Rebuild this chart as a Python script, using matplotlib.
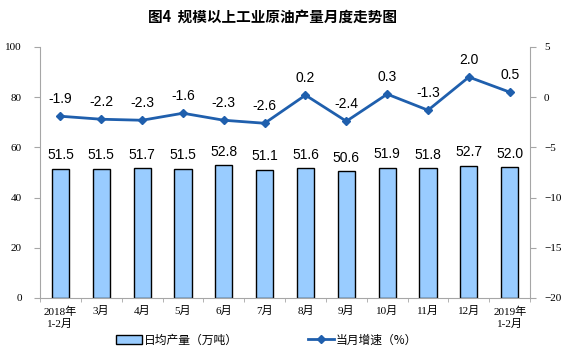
import matplotlib.pyplot as plt
import numpy as np
from matplotlib.lines import Line2D
from matplotlib.patches import Patch

plt.rcParams['font.family'] = ['Liberation Sans', 'Noto Sans CJK SC']

months = ["2018年\n1-2月", "3月", "4月", "5月", "6月", "7月", "8月",
          "9月", "10月", "11月", "12月", "2019年\n1-2月"]
output = [51.5, 51.5, 51.7, 51.5, 52.8, 51.1, 51.6, 50.6, 51.9, 51.8, 52.7, 52.0]
growth = [-1.9, -2.2, -2.3, -1.6, -2.3, -2.6, 0.2, -2.4, 0.3, -1.3, 2.0, 0.5]

bar_color = "#99CCFF"
line_color = "#1F5FAD"
axis_color = "#A6A6A6"
tick_font = ['Liberation Serif', 'Noto Sans CJK SC']

fig = plt.figure(figsize=(5.67, 3.58), dpi=100)
ax = fig.add_axes([0.0705, 0.1676, 0.8645, 0.7013])
ax2 = ax.twinx()

x = np.arange(len(months))

ax.bar(x, output, width=0.42, color=bar_color, edgecolor="black", linewidth=1.0, zorder=2)
for xi, v in zip(x, output):
    ax.text(xi, v + 2.5, f"{v:.1f}", ha="center", va="bottom", fontsize=10)

ax2.plot(x, growth, color=line_color, linewidth=2, marker="D", markersize=4.5, zorder=3)
for xi, v in zip(x, growth):
    ax2.text(xi, v + 1.0, f"{v:.1f}", ha="center", va="bottom", fontsize=10)

ax.set_xlim(-0.5, len(months) - 0.5)
ax.set_ylim(0, 100)
ax.set_yticks(range(0, 101, 20))
ax2.set_ylim(-20, 5)
ax2.set_yticks(range(-20, 6, 5))

ax.set_xticks(x)
ax.set_xticklabels(months, family=tick_font, fontsize=8, linespacing=1.3)
ax.set_xticks(np.arange(-0.5, len(months), 1), minor=True)
ax.tick_params(axis="x", which="major", length=0, pad=6)
ax.tick_params(axis="x", which="minor", length=3, color=axis_color, direction="out")

for a in (ax, ax2):
    for s in a.spines.values():
        s.set_visible(False)
    a.tick_params(axis="y", length=4, color=axis_color, direction="out", labelsize=8, pad=6)
    for lab in a.get_yticklabels():
        lab.set_family(tick_font)

ax.spines["left"].set_visible(True)
ax.spines["left"].set_color(axis_color)
ax.spines["bottom"].set_visible(True)
ax.spines["bottom"].set_color(axis_color)
ax2.spines["right"].set_visible(True)
ax2.spines["right"].set_color(axis_color)
ax.tick_params(axis="y", pad=9)

fig.text(0.48, 0.95, "图4  规模以上工业原油产量月度走势图", ha="center", va="center",
         fontsize=10.5, fontweight="bold", family=['Noto Sans CJK SC'])

handles = [
    Patch(facecolor=bar_color, edgecolor="black", linewidth=1.0),
    Line2D([0], [0], color=line_color, linewidth=2, marker="D", markersize=4),
]
labels = ["日均产量（万吨）", "当月增速（%）"]
fig.legend(handles, labels, loc="center", bbox_to_anchor=(0.47, 0.05), ncol=2,
           frameon=False, columnspacing=5.9, handlelength=2.2, handletextpad=0.2,
           prop={'family': ['Noto Sans CJK SC'], 'size': 8.5})

fig.savefig("out.png", dpi=100)
